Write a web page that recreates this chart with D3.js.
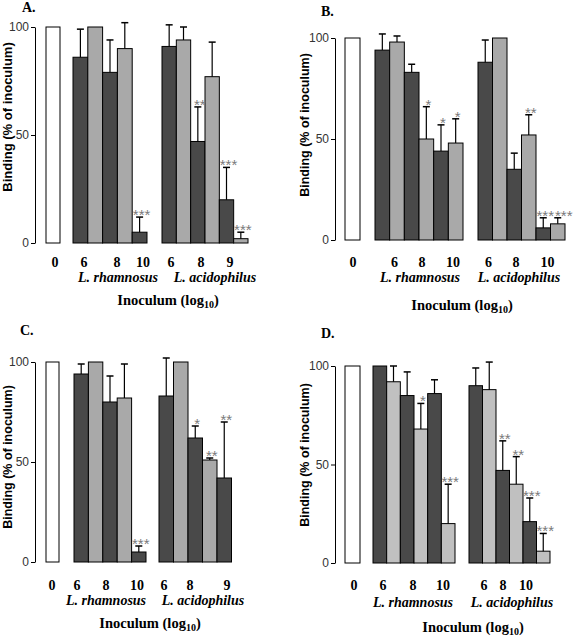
<!DOCTYPE html>
<html>
<head>
<meta charset="utf-8">
<script src="https://cdn.jsdelivr.net/npm/d3@7/dist/d3.min.js"></script>
<style>
  html, body { margin: 0; padding: 0; background: #fff; }
  svg { display: block; }
</style>
</head>
<body>
<svg id="chart" width="576" height="639"></svg>
<script>
// ---------------- DATA ----------------
const panelNames = ["A.", "B.", "C.", "D."];
const controlLabel = "0";
const controlValue = 100;
const yTicks = [0, 50, 100];
const rhamName = "L. rhamnosus";
const acidName = "L. acidophilus";

// L. rhamnosus bars (alternating dark / light), per panel
const rhamValues = [
  [86, 100, 79, 90, 5],
  [94, 98, 83, 50, 44, 48],
  [94, 100, 80, 82, 5],
  [100, 92, 85, 68, 86, 20]
];
const rhamUpper = [
  [99, null, 94, 102, 12],
  [102, 101, 87, 66, 57, 60],
  [99, null, 93, 99, 8],
  [null, 100, 97, 81, 93, 40]
];
const rhamSig = [
  ["", "", "", "", "***"],
  ["", "", "", "*", "*", "*"],
  ["", "", "", "", "***"],
  ["", "", "", "*", "", "***"]
];
const rhamTickLabels = [
  ["6", "8", "10"], ["6", "8", "10"], ["6", "8", "10"], ["6", "8", "10"]
];
const rhamTickAt = [
  [0.74, 2.97, 4.73], [1.33, 3.2, 5.32], [0.21, 2.22, 4.38], [0.73, 2.93, 5.12]
];

// L. acidophilus bars
const acidValues = [
  [91, 94, 47, 77, 20, 2],
  [88, 100, 35, 52, 6, 8],
  [83, 100, 62, 51, 42, 0],
  [90, 88, 47, 40, 21, 6]
];
const acidUpper = [
  [101, 100, 63, 93, 35, 5],
  [99, null, 43, 62, 11, 11],
  [102, null, 68, 52, 70, null],
  [99, 102, 62, 54, 33, 15]
];
const acidSig = [
  ["", "", "**", "", "***", "***"],
  ["", "", "", "**", "***", "***"],
  ["", "", "*", "**", "**", ""],
  ["", "", "**", "**", "***", "***"]
];
const acidTickLabels = [
  ["6", "8", "9"], ["6", "8", "10"], ["6", "8", "9"], ["6", "8", "10"]
];
const acidTickAt = [
  [0.63, 2.72, 4.74], [0.72, 2.62, 4.79], [0.34, 2.14, 4.69], [1.11, 2.52, 4.22]
];

// ---------------- LAYOUT (styling) ----------------
const layouts = [
  { y100: 27, y0: 243, axisX: 35, white: [46, 60], g1: [73, 147], g2: [162, 248],
    ctrlX: 55, labelY: 267, speciesY: 282, rhamX: 118, acidX: 215, inocX: 168, inocY: 305,
    titleX: 22, titleY: 12, yTitleX: 12, yTitleY: 117, yTitleSize: 13, light: "#a9a9a9" },
  { y100: 38, y0: 240, axisX: 335, white: [345, 360], g1: [375, 463], g2: [478, 565],
    ctrlX: 353, labelY: 267, speciesY: 282, rhamX: 420, acidX: 519, inocX: 462, inocY: 310,
    titleX: 321, titleY: 16, yTitleX: 309, yTitleY: 125, yTitleSize: 12.5, light: "#a9a9a9" },
  { y100: 362, y0: 562, axisX: 35, white: [46, 59], g1: [74, 146], g2: [159, 246],
    ctrlX: 52, labelY: 590, speciesY: 605, rhamX: 106, acidX: 203, inocX: 150, inocY: 628,
    titleX: 20, titleY: 335, yTitleX: 12, yTitleY: 457, yTitleSize: 12.5, light: "#a9a9a9" },
  { y100: 366, y0: 563, axisX: 335, white: [345, 360], g1: [373, 455], g2: [469, 550],
    ctrlX: 354, labelY: 590, speciesY: 607, rhamX: 413, acidX: 512, inocX: 473, inocY: 632,
    titleX: 321, titleY: 338, yTitleX: 309, yTitleY: 455, yTitleSize: 12.5, light: "#c0c0c0" }
];

const dark = "#494949";
const serif = "'Liberation Serif', 'Times New Roman', serif";
const sans = "'Liberation Sans', Arial, sans-serif";
const sigSize = 15;

const svg = d3.select("#chart");

function drawGroup(g, L, range, values, upper, sig, tickLabels, tickAt) {
  const n = values.length;
  const x = d3.scaleLinear().domain([0, n]).range(range);
  const y = d3.scaleLinear().domain([0, 100]).range([L.y0, L.y100]);
  const bw = x(1) - x(0);
  const data = values.map((v, i) => ({ v, i, up: upper[i], s: sig[i] }));

  g.selectAll(null).data(data).enter().append("rect")
    .attr("x", d => x(d.i))
    .attr("y", d => y(d.v))
    .attr("width", bw)
    .attr("height", d => Math.max(0, y(0) - y(d.v)))
    .attr("fill", d => d.i % 2 === 0 ? dark : L.light)
    .attr("stroke", "#000")
    .attr("stroke-width", d => d.v === 0 ? 2 : 1);

  const eb = data.filter(d => d.up !== null);
  g.selectAll(null).data(eb).enter().append("line")
    .attr("x1", d => x(d.i + 0.5)).attr("x2", d => x(d.i + 0.5))
    .attr("y1", d => y(d.v)).attr("y2", d => y(d.up))
    .attr("stroke", "#000").attr("stroke-width", 1.2);
  g.selectAll(null).data(eb).enter().append("line")
    .attr("x1", d => x(d.i + 0.5) - 3.5).attr("x2", d => x(d.i + 0.5) + 3.5)
    .attr("y1", d => y(d.up)).attr("y2", d => y(d.up))
    .attr("stroke", "#000").attr("stroke-width", 1.5);

  // significance marks, nudged right when they would collide
  const sigData = data.filter(d => d.s).map(d => ({
    ...d, cx: x(d.i + 0.5) + 2, w: d.s.length * 0.389 * sigSize,
    ty: y(d.up !== null ? d.up : d.v) + 3
  }));
  let prevRight = -Infinity, prevTop = null;
  sigData.forEach(d => {
    if (prevTop !== null && Math.abs(d.ty - prevTop) < 12 && d.cx - d.w / 2 < prevRight + 1) {
      d.cx = prevRight + 1 + d.w / 2;
    }
    prevRight = d.cx + d.w / 2;
    prevTop = d.ty;
  });
  g.selectAll(null).data(sigData).enter().append("text")
    .attr("x", d => d.cx)
    .attr("y", d => d.ty)
    .attr("text-anchor", "middle")
    .attr("font-family", sans)
    .attr("font-size", sigSize)
    .attr("fill", "#7a7a7a")
    .text(d => d.s);

  g.selectAll(null).data(tickLabels).enter().append("text")
    .attr("x", (d, i) => x(tickAt[i]))
    .attr("y", L.labelY)
    .attr("text-anchor", "middle")
    .attr("font-family", serif)
    .attr("font-weight", "bold")
    .attr("font-size", 14)
    .attr("fill", "#000")
    .text(d => d);
}

panelNames.forEach((name, p) => {
  const L = layouts[p];
  const g = svg.append("g");
  const y = d3.scaleLinear().domain([0, 100]).range([L.y0, L.y100]);

  // y axis
  const ax = g.append("g")
    .attr("transform", `translate(${L.axisX},0)`)
    .call(d3.axisLeft(y).tickValues(yTicks).tickSize(4).tickSizeOuter(0).tickPadding(2));
  ax.select(".domain").attr("stroke", "#000").attr("stroke-width", 1);
  ax.selectAll(".tick line").attr("stroke", "#000");
  ax.selectAll(".tick text")
    .attr("font-family", sans).attr("font-size", 12).attr("fill", "#333");

  // control bar
  g.append("rect")
    .attr("x", L.white[0]).attr("y", y(controlValue))
    .attr("width", L.white[1] - L.white[0]).attr("height", y(0) - y(controlValue))
    .attr("fill", "#fff").attr("stroke", "#000").attr("stroke-width", 1);
  g.append("text")
    .attr("x", L.ctrlX).attr("y", L.labelY)
    .attr("text-anchor", "middle").attr("font-family", serif)
    .attr("font-weight", "bold").attr("font-size", 14).text(controlLabel);

  drawGroup(g, L, L.g1, rhamValues[p], rhamUpper[p], rhamSig[p], rhamTickLabels[p], rhamTickAt[p]);
  drawGroup(g, L, L.g2, acidValues[p], acidUpper[p], acidSig[p], acidTickLabels[p], acidTickAt[p]);

  // species names
  [[rhamName, L.rhamX], [acidName, L.acidX]].forEach(([t, xx]) => {
    g.append("text").attr("x", xx).attr("y", L.speciesY)
      .attr("text-anchor", "middle").attr("font-family", serif)
      .attr("font-weight", "bold").attr("font-style", "italic")
      .attr("font-size", 14).text(t);
  });

  // x title
  const xt = g.append("text").attr("x", L.inocX).attr("y", L.inocY)
    .attr("text-anchor", "middle").attr("font-family", serif)
    .attr("font-weight", "bold").attr("font-size", 14.5);
  xt.append("tspan").text("Inoculum (log");
  xt.append("tspan").attr("font-size", 10).attr("dy", 3).text("10");
  xt.append("tspan").attr("dy", -3).text(")");

  // y title
  g.append("text")
    .attr("transform", `translate(${L.yTitleX},${L.yTitleY}) rotate(-90)`)
    .attr("text-anchor", "middle").attr("font-family", sans)
    .attr("font-weight", "bold").attr("font-size", L.yTitleSize)
    .text("Binding (% of inoculum)");

  // panel letter
  g.append("text").attr("x", L.titleX).attr("y", L.titleY)
    .attr("font-family", serif).attr("font-weight", "bold").attr("font-size", 14)
    .text(name);
});
</script>
</body>
</html>
